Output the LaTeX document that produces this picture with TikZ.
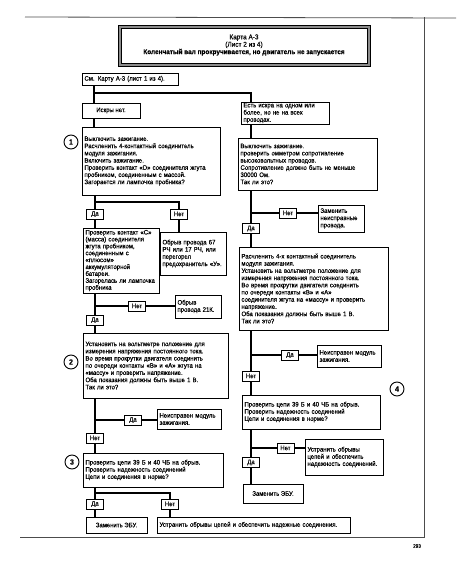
\documentclass[tikz,border=0pt]{standalone}
\usepackage{fontspec}
\setmainfont{Liberation Sans}[FakeBold=0.35, FakeStretch=0.92]
\newcommand{\nb}[1]{\mbox{#1}}
\begin{document}
\begin{tikzpicture}[x=1pt,y=-1pt,
  txt/.style={font=\fontsize{6.5}{7.2}\selectfont},
  box/.style={draw, line width=0.6pt, fill=white, inner xsep=2.5pt, inner ysep=1pt, txt, align=left},
  cbox/.style={draw, line width=0.6pt, fill=white, inner sep=1pt, txt, align=center},
  yn/.style={draw, line width=0.6pt, fill=white, inner sep=0pt, minimum width=17pt, minimum height=10pt, txt},
  num/.style={draw, circle, line width=0.9pt, inner sep=0pt, minimum size=14pt, font=\fontsize{7.5}{8}\selectfont\bfseries},
  conn/.style={line width=1.6pt},
  frame/.style={line width=0.8pt, black!70}]
\useasboundingbox (0,0) rectangle (456,570);
% page rules
\draw[frame] (25,17) -- (456,18);
\draw[frame] (20,537) -- (424,537) -- (424,17);
\node[txt, font=\fontsize{5}{6}\selectfont] (page) at (417,546) {293};
% title
\draw[line width=3pt, black!45] (119.5,26.5) rectangle (368.5,64.5);
\draw[line width=0.7pt] (118,25) rectangle (370,66);
\draw[line width=0.6pt] (121,28) rectangle (367,63);
\node[txt, font=\fontsize{7}{7.4}\selectfont, align=center] (title) at (244,45)
  {Карта А-3\\(Лист 2 из 4)\\\textbf{Коленчатый вал прокручивается, но двигатель не запускается}};
% top
\node[box, text width=91pt, minimum height=12pt] (see) at (130,79) {\nb{См. Карту А-3 (лист 1 из 4).}};
\node[cbox, minimum width=58pt, minimum height=15pt] (nospark) at (111,110.5) {Искры нет.};
\node[box, text width=83pt, minimum height=22pt] (spark) at (285,113) {\nb{Есть искра на одном или}\\\nb{более, но не на всех}\\проводах.};
% left column
\node[box, text width=133pt, minimum height=68pt] (box1) at (151,161) {Выключить зажигание.\\\nb{Расчленить 4-контактный соединитель}\\модуля зажигания.\\Включить зажигание.\\\nb{Проверить контакт «D» соединителя жгута}\\\nb{пробником, соединенным с массой.}\\\nb{Загорается ли лампочка пробника?}};
\node[num] (n1) at (71,142) {1};
\node[yn] (da1) at (95,214) {Да};
\node[yn] (net1) at (179,214) {Нет};
\node[box, text width=71pt, minimum height=65pt, font=\fontsize{6.5}{6.9}\selectfont] (boxC) at (121,260.5) {\nb{Проверить контакт «С»}\\\nb{(масса) соединителя}\\\nb{жгута пробником,}\\\nb{соединенным с}\\«плюсом»\\аккумуляторной\\батареи.\\\nb{Загорелась ли лампочка}\\пробника};
\node[box, text width=61pt, minimum height=43pt] (box67) at (193,253.5) {\nb{Обрыв провода 67}\\\nb{РЧ или 17 РЧ, или}\\перегорел\\\nb{предохранитель «У».}};
\node[yn] (net2) at (137,306) {Нет};
\node[box, text width=41pt, minimum height=23pt] (box21K) at (198,306.5) {Обрыв\\\nb{провода 21К.}};
\node[yn] (da2) at (95,320) {Да};
\node[box, text width=140pt, minimum height=65pt] (box2L) at (155.5,365.5) {\nb{Установить на вольтметре положение для}\\\nb{измерения напряжения постоянного тока.}\\\nb{Во время прокрутки двигателя соединить}\\\nb{по очереди контакты «В» и «А» жгута на}\\\nb{«массу» и проверить напряжение.}\\\nb{Оба показания должны быть выше 1 В.}\\Так ли это?};
\node[num] (n2) at (71,362) {2};
\node[yn] (da3) at (133,420) {Да};
\node[box, text width=59pt, minimum height=20pt] (neisp1) at (189,419) {\nb{Неисправен модуль}\\зажигания.};
\node[yn] (net3) at (95,438) {Нет};
\node[box, text width=135pt, minimum height=34pt] (box3L) at (153,470) {\nb{Проверить цепи 39 Б и 40 ЧБ на обрыв.}\\\nb{Проверить надежность соединений}\\\nb{Цепи и соединения в норме?}};
\node[num] (n3) at (72,462) {3};
\node[yn] (da4) at (95,504) {Да};
\node[yn] (net4) at (170,504) {Нет};
\node[cbox, minimum width=61pt, minimum height=16pt] (zam1) at (116.5,525) {Заменить ЭБУ.};
\node[box, text width=188pt, minimum height=16pt] (ustr1) at (253.5,525) {\nb{Устранить обрывы цепей и обеспечить надежные соединения.}};
% right column
\node[box, text width=134pt, minimum height=52pt] (box2) at (307.5,164) {Выключить зажигание.\\\nb{проверить омметром сопротивление}\\\nb{высоковольтных проводов.}\\\nb{Сопротивление должно быть не меньше}\\30000 Ом.\\Так ли это?};
\node[yn] (net5) at (288,213) {Нет};
\node[box, text width=41pt, minimum height=27pt] (zamprov) at (341,218.5) {Заменить\\неисправные\\провода.};
\node[yn] (da5) at (251,228.5) {Да};
\node[box, text width=144pt, minimum height=83pt] (box3R) at (313.5,288.5) {\nb{Расчленить 4-х контактный соединитель}\\модуля зажигания.\\\nb{Установить на вольтметре положение для}\\\nb{измерения напряжения постоянного тока.}\\\nb{Во время прокрутки двигателя соединить}\\\nb{по очереди контакты «В» и «А»}\\\nb{соединителя жгута на «массу» и проверить}\\напряжение.\\\nb{Оба показания должны быть выше 1 В.}\\Так ли это?};
\node[yn] (da6) at (290,355) {Да};
\node[box, text width=59pt, minimum height=22pt] (neisp2) at (349,356) {\nb{Неисправен модуль}\\зажигания.};
\node[yn] (net6) at (251,376) {Нет};
\node[num] (n4) at (397,389) {4};
\node[box, text width=133pt, minimum height=34pt] (box4R) at (311,412) {\nb{Проверить цепи 39 Б и 40 ЧБ на обрыв.}\\\nb{Проверить надежность соединений}\\\nb{Цепи и соединения в норме?}};
\node[yn] (net7) at (285.5,448) {Нет};
\node[box, text width=73pt, minimum height=36pt] (ustr2) at (344,457) {\nb{Устранить обрывы}\\\nb{цепей и обеспечить}\\\nb{надежность соединений.}};
\node[yn] (da7) at (251,462.5) {Да};
\node[cbox, minimum width=60pt, minimum height=19pt] (zam2) at (273,493.5) {Заменить ЭБУ.};
% junction coordinates
\coordinate (L0) at (94,93);
\coordinate (R0) at (251,93);
\coordinate (j1) at (95,202);
\coordinate (j1r) at (179,202);
\coordinate (j2) at (95,306);
\coordinate (j3) at (95,420);
\coordinate (j4) at (95,493);
\coordinate (j4r) at (170,493);
\coordinate (k1) at (251,213);
\coordinate (k2) at (251,355);
\coordinate (k3) at (251,448);
% connectors top
\draw[conn] (see.south -| L0) -- (L0) -- (R0) -- (R0 |- spark.north);
\draw[conn] (L0) -- (L0 |- nospark.north);
\draw[conn] (nospark.south -| L0) -- (box1.north -| L0);
\draw[conn] (spark.south -| R0) -- (box2.north -| R0);
% left connectors
\draw[conn] (box1.south -| j1) -- (j1) -- (da1.north);
\draw[conn] (j1) -- (j1r) -- (net1.north);
\draw[conn] (da1.south) -- (da1.south |- boxC.north);
\draw[conn] (net1.south) -- (net1.south |- box67.north);
\draw[conn] (boxC.south -| j2) -- (j2) -- (da2.north);
\draw[conn] (j2) -- (net2.west);
\draw[conn] (net2.east) -- (net2.east -| box21K.west);
\draw[conn] (da2.south) -- (da2.south |- box2L.north);
\draw[conn] (box2L.south -| j3) -- (j3) -- (net3.north);
\draw[conn] (j3) -- (da3.west);
\draw[conn] (da3.east) -- (da3.east -| neisp1.west);
\draw[conn] (net3.south) -- (net3.south |- box3L.north);
\draw[conn] (box3L.south -| j4) -- (j4) -- (da4.north);
\draw[conn] (j4) -- (j4r) -- (net4.north);
\draw[conn] (da4.south) -- (da4.south |- zam1.north);
\draw[conn] (net4.south) -- (net4.south |- ustr1.north);
% right connectors
\draw[conn] (box2.south -| k1) -- (k1) -- (da5.north);
\draw[conn] (k1) -- (net5.west);
\draw[conn] (net5.east) -- (net5.east -| zamprov.west);
\draw[conn] (da5.south) -- (da5.south |- box3R.north);
\draw[conn] (box3R.south -| k2) -- (k2) -- (net6.north);
\draw[conn] (k2) -- (da6.west);
\draw[conn] (da6.east) -- (da6.east -| neisp2.west);
\draw[conn] (net6.south) -- (net6.south |- box4R.north);
\draw[conn] (box4R.south -| k3) -- (k3) -- (da7.north);
\draw[conn] (k3) -- (net7.west);
\draw[conn] (net7.east) -- (net7.east -| ustr2.west);
\draw[conn] (da7.south) -- (da7.south |- zam2.north);
\end{tikzpicture}
\end{document}
